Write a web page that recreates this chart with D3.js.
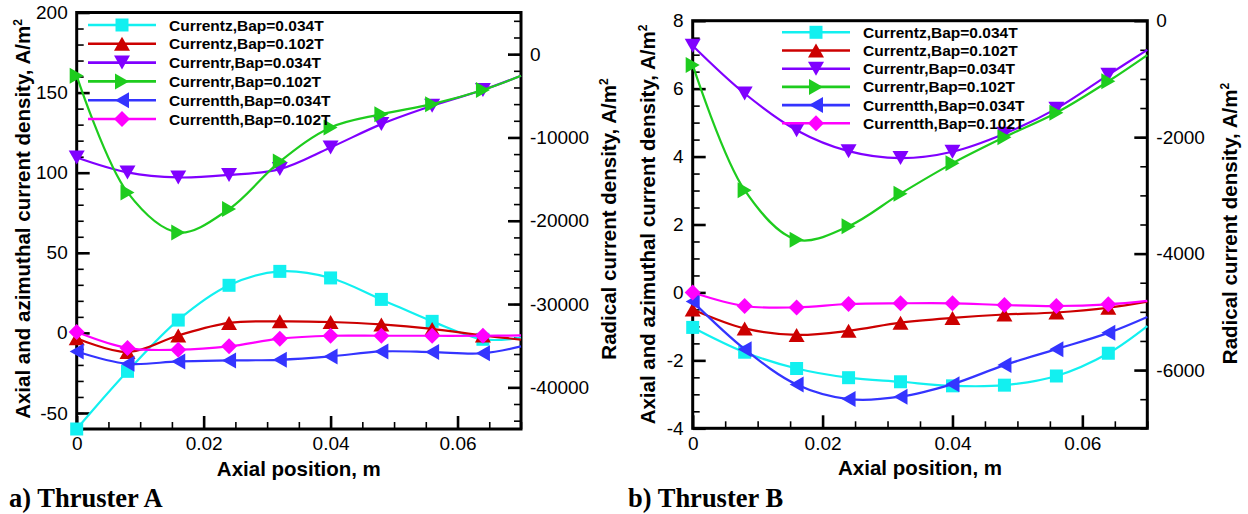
<!DOCTYPE html>
<html>
<head>
<meta charset="utf-8">
<script src="https://cdn.jsdelivr.net/npm/d3@7"></script>
<style>
  body { margin: 0; background: #fff; }
  svg { display: block; }
  text { font-family: "Liberation Sans", Arial, Helvetica, sans-serif; fill: #000; }
</style>
</head>
<body>
<svg id="chart" width="1248" height="514"></svg>
<script>
// Axial sample positions (m); markers sit on the first nine, the curves run on to the exit plane
const positions = [0, 0.008, 0.016, 0.024, 0.032, 0.04, 0.048, 0.056, 0.064, 0.07];

const seriesNames = [
  "Currentz,Bap=0.034T", "Currentz,Bap=0.102T",
  "Currentr,Bap=0.034T", "Currentr,Bap=0.102T",
  "Currentth,Bap=0.034T", "Currentth,Bap=0.102T"
];
const seriesColors = ["#12f0f0", "#cc0000", "#8000ff", "#1ecc1e", "#3434ff", "#ff00ff"];
const seriesMarkers = ["square", "triUp", "triDown", "triRight", "triLeft", "diamond"];
// radial components are read against the right-hand axis
const seriesOnRight = [false, false, true, true, false, false];

// Thruster A  (axial / azimuthal in A/m^2 on the left axis, radial on the right axis)
const aZ034  = [-60, -24, 8, 29.7, 38.4, 34.3, 20.9, 7.2, -4, -3];
const aZ102  = [-3.3, -12, -1.6, 6.2, 7.2, 6.8, 5.3, 2.5, -1.6, -4.2];
const aR034  = [-12400, -14200, -14800, -14500, -13800, -11200, -8400, -6200, -4300, -2600];
const aR102  = [-2600, -16600, -21400, -18600, -12900, -8800, -7200, -6000, -4300, -2600];
const aTh034 = [-11.6, -19.3, -17.8, -17.2, -16.8, -14.7, -11.6, -12, -12.7, -8.4];
const aTh102 = [0.5, -9.5, -10.5, -8.4, -3.6, -1.8, -1.8, -1.8, -1.8, -1.6];

// Thruster B
const bZ034  = [-1.03, -1.76, -2.24, -2.51, -2.63, -2.75, -2.73, -2.46, -1.79, -0.99];
const bZ102  = [-0.5, -1.06, -1.25, -1.13, -0.89, -0.75, -0.65, -0.59, -0.45, -0.27];
const bR034  = [-430, -1250, -1880, -2240, -2360, -2250, -1940, -1510, -930, -500];
const bR102  = [-760, -2910, -3760, -3530, -2970, -2450, -2000, -1580, -1040, -590];
const bTh034 = [-0.27, -1.67, -2.71, -3.14, -3.07, -2.70, -2.14, -1.67, -1.19, -0.72];
const bTh102 = [0, -0.40, -0.44, -0.34, -0.32, -0.32, -0.37, -0.40, -0.35, -0.25];

// Tick values
const xTicks = [0, 0.02, 0.04, 0.06];
const aLeftTicks = [-50, 0, 50, 100, 150, 200];
const aRightTicks = [-40000, -30000, -20000, -10000, 0];
const bLeftTicks = [-4, -2, 0, 2, 4, 6, 8];
const bRightTicks = [-6000, -4000, -2000, 0];

const axisTitleX = "Axial position, m";
const axisTitleLeft = "Axial and azimuthal current density, ";
const axisTitleRight = "Radical current density, ";

const svg = d3.select("#chart");

// plain hyphen-minus for negative tick labels
const plainNum = d => String(d);

function markerPath(kind) {
  const s = 16, h = 14, q = 13;
  switch (kind) {
    case "square":  return `M${-q/2},${-q/2}h${q}v${q}h${-q}Z`;
    case "triUp":   return `M0,${-h/2}L${s/2},${h/2}L${-s/2},${h/2}Z`;
    case "triDown": return `M0,${h/2}L${s/2},${-h/2}L${-s/2},${-h/2}Z`;
    case "triRight":return `M${h/2},0L${-h/2},${-s/2}L${-h/2},${s/2}Z`;
    case "triLeft": return `M${-h/2},0L${h/2},${-s/2}L${h/2},${s/2}Z`;
    case "diamond": return `M0,${-s/2}L${s/2},0L0,${s/2}L${-s/2},0Z`;
  }
}

function drawPanel(p) {
  const g = svg.append("g");
  const x = d3.scaleLinear().domain([0, 0.07]).range([p.left, p.right]);
  const yL = d3.scaleLinear().domain(p.leftDomain).range([p.bottom, p.top]);
  const yR = d3.scaleLinear().domain(p.rightDomain).range([p.bottom, p.top]);

  const styleAxis = (sel, major) => {
    sel.select(".domain").remove();
    sel.selectAll("line").attr("stroke", "#000").attr("stroke-width", major ? 2.6 : 1.6);
    sel.selectAll("text").style("font-size", "19px");
  };

  // minor ticks
  g.append("g").attr("transform", `translate(0,${p.bottom})`)
    .call(d3.axisBottom(x).tickValues(d3.range(0, 0.0701, 0.005)).tickSize(-7).tickFormat(""))
    .call(s => styleAxis(s, false));
  g.append("g").attr("transform", `translate(${p.left},0)`)
    .call(d3.axisLeft(yL).tickValues(d3.range(p.leftDomain[0], p.leftDomain[1] + 1e-9, p.leftMinor)).tickSize(-7).tickFormat(""))
    .call(s => styleAxis(s, false));
  g.append("g").attr("transform", `translate(${p.right},0)`)
    .call(d3.axisRight(yR).tickValues(p.rightMinor).tickSize(-7).tickFormat(""))
    .call(s => styleAxis(s, false));

  // major ticks with labels
  g.append("g").attr("transform", `translate(0,${p.bottom})`)
    .call(d3.axisBottom(x).tickValues(xTicks).tickSizeInner(-13).tickSizeOuter(0).tickPadding(8)
      .tickFormat(d => d === 0 ? "0" : d3.format(".2f")(d)))
    .call(s => styleAxis(s, true));
  g.append("g").attr("transform", `translate(${p.left},0)`)
    .call(d3.axisLeft(yL).tickValues(p.leftTicks).tickSizeInner(-13).tickSizeOuter(0).tickPadding(9)
      .tickFormat(plainNum))
    .call(s => styleAxis(s, true));
  g.append("g").attr("transform", `translate(${p.right},0)`)
    .call(d3.axisRight(yR).tickValues(p.rightTicks).tickSizeInner(-13).tickSizeOuter(0).tickPadding(9)
      .tickFormat(plainNum))
    .call(s => styleAxis(s, true));

  // frame
  g.append("rect").attr("x", p.left).attr("y", p.top)
    .attr("width", p.right - p.left).attr("height", p.bottom - p.top)
    .attr("fill", "none").attr("stroke", "#000").attr("stroke-width", 3);

  // curves and markers
  const line = d3.line().curve(d3.curveCatmullRom.alpha(0.5));
  p.series.forEach((vals, i) => {
    const y = seriesOnRight[i] ? yR : yL;
    const pts = positions.map((px, j) => [x(px), y(vals[j])]);
    g.append("path").attr("d", line(pts)).attr("fill", "none")
      .attr("stroke", seriesColors[i]).attr("stroke-width", 2.2);
    g.append("g").selectAll("path").data(pts.slice(0, positions.length - 1)).join("path")
      .attr("transform", d => `translate(${d[0]},${d[1]})`)
      .attr("d", markerPath(seriesMarkers[i]))
      .attr("fill", seriesColors[i]);
  });

  // legend
  const lg = g.append("g");
  seriesNames.forEach((name, i) => {
    const yy = p.legY + i * p.legStep;
    lg.append("line").attr("x1", p.legX).attr("x2", p.legX + 68).attr("y1", yy).attr("y2", yy)
      .attr("stroke", seriesColors[i]).attr("stroke-width", 2.6);
    lg.append("path").attr("transform", `translate(${p.legX + 34},${yy})`)
      .attr("d", markerPath(seriesMarkers[i])).attr("fill", seriesColors[i]);
    lg.append("text").attr("x", p.legX + 81).attr("y", yy).attr("dy", "0.36em")
      .style("font-size", "15.5px").style("font-weight", "bold").text(name);
  });

  // axis titles
  g.append("text").attr("x", (p.left + p.right) / 2).attr("y", p.bottom + 47)
    .attr("text-anchor", "middle").style("font-size", "20.5px").style("font-weight", "bold")
    .text(axisTitleX);

  const unitTitle = (tx, ty, label) => {
    const t = g.append("text").attr("transform", `translate(${tx},${ty}) rotate(-90)`)
      .attr("text-anchor", "middle").style("font-size", "20.5px").style("font-weight", "bold");
    t.append("tspan").text(label + "A/m");
    t.append("tspan").attr("dy", "-0.7em").style("font-size", "12px").text("2");
  };
  unitTitle(p.leftTitleX, p.leftTitleY, axisTitleLeft);
  unitTitle(p.rightTitleX, p.rightTitleY, axisTitleRight);

  // panel caption
  g.append("text").attr("x", p.capX).attr("y", 507)
    .style("font-family", "'Liberation Serif', 'Times New Roman', serif")
    .style("font-size", "26.5px").style("font-weight", "bold").text(p.caption);
}

drawPanel({
  left: 76.7, right: 521, top: 12.5, bottom: 429,
  leftDomain: [-60, 200], leftTicks: aLeftTicks, leftMinor: 10,
  rightDomain: [-45000, 5000], rightTicks: aRightTicks, rightMinor: d3.range(-44000, 4001, 2000),
  series: [aZ034, aZ102, aR034, aR102, aTh034, aTh102],
  legX: 88, legY: 25, legStep: 18.8,
  leftTitleX: 30, leftTitleY: 219, rightTitleX: 616, rightTitleY: 219,
  capX: 9, caption: "a) Thruster A"
});

drawPanel({
  left: 692.7, right: 1147.3, top: 20.7, bottom: 428.3,
  leftDomain: [-4, 8], leftTicks: bLeftTicks, leftMinor: 0.5,
  rightDomain: [-7000, 0], rightTicks: bRightTicks, rightMinor: d3.range(-7000, 1, 500),
  series: [bZ034, bZ102, bR034, bR102, bTh034, bTh102],
  legX: 782, legY: 32.3, legStep: 18.2,
  leftTitleX: 655, leftTitleY: 224.5, rightTitleX: 1237, rightTitleY: 223.5,
  capX: 628, caption: "b) Thruster B"
});
</script>
</body>
</html>
